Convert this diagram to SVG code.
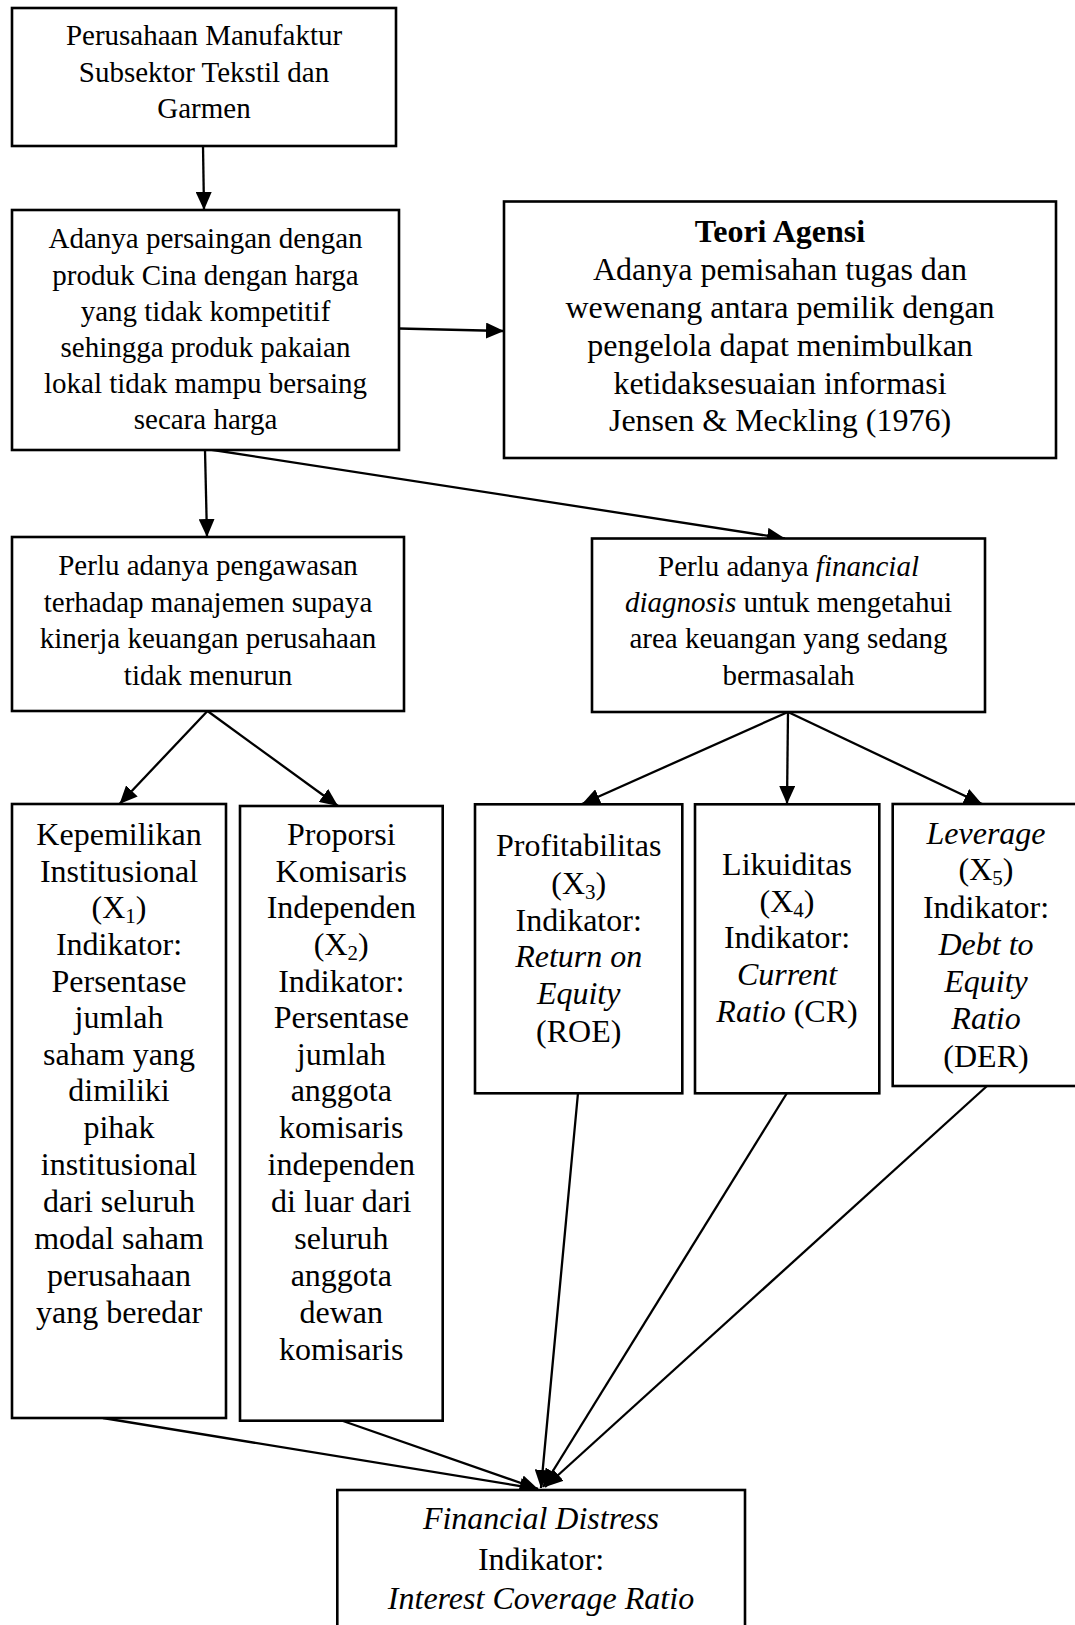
<svg xmlns="http://www.w3.org/2000/svg" width="1075" height="1625" viewBox="0 0 1075 1625">
<style>
  .box { fill: #ffffff; stroke: #000000; stroke-width: 2.6; }
  .t { font-family: "Liberation Serif", "Times New Roman", serif; fill: #000000; text-anchor: middle; }
  .s29 { font-size: 29px; }
  .s32 { font-size: 32px; }
  .it { font-style: italic; }
  .b { font-weight: bold; }
  .ln { fill: none; stroke: #000000; stroke-width: 2.3; marker-end: url(#ah); }
</style>
<defs>
  <marker id="ah" markerUnits="userSpaceOnUse" markerWidth="18" markerHeight="16" refX="18" refY="8" orient="auto">
    <path d="M0,0 L18,8 L0,16 Z" fill="#000000"/>
  </marker>
</defs>
<rect x="0" y="0" width="1075" height="1625" fill="#ffffff"/>

<g id="connectors">
  <line class="ln" x1="203" y1="146" x2="204" y2="210"/>
  <line class="ln" x1="399" y1="328.5" x2="504" y2="331"/>
  <line class="ln" x1="205" y1="450" x2="207" y2="537"/>
  <line class="ln" x1="206.5" y1="449" x2="785" y2="538.5"/>
  <line class="ln" x1="207.5" y1="711" x2="119.5" y2="804"/>
  <line class="ln" x1="207.5" y1="711" x2="338" y2="806"/>
  <line class="ln" x1="788" y1="712" x2="582" y2="804"/>
  <line class="ln" x1="788" y1="712" x2="787" y2="804"/>
  <line class="ln" x1="788" y1="712" x2="982" y2="804"/>
  <line class="ln" x1="103" y1="1418" x2="538" y2="1489"/>
  <line class="ln" x1="343" y1="1421" x2="538" y2="1489"/>
  <line class="ln" x1="578" y1="1093" x2="541" y2="1488"/>
  <line class="ln" x1="787" y1="1093" x2="543" y2="1487"/>
  <line class="ln" x1="987" y1="1086" x2="545" y2="1487"/>
</g>

<g id="node-perusahaan">
  <rect class="box" x="12" y="8" width="384" height="138"/>
  <text class="t s29" x="204" y="45">Perusahaan Manufaktur</text>
  <text class="t s29" x="204" y="81.7">Subsektor Tekstil dan</text>
  <text class="t s29" x="204" y="118.3">Garmen</text>
</g>

<g id="node-persaingan">
  <rect class="box" x="12" y="210" width="387" height="240"/>
  <text class="t s29" x="205.5" y="248">Adanya persaingan dengan</text>
  <text class="t s29" x="205.5" y="284.5">produk Cina dengan harga</text>
  <text class="t s29" x="205.5" y="320.5">yang tidak kompetitif</text>
  <text class="t s29" x="205.5" y="356.5">sehingga produk pakaian</text>
  <text class="t s29" x="205.5" y="392.5">lokal tidak mampu bersaing</text>
  <text class="t s29" x="205.5" y="428.5">secara harga</text>
</g>

<g id="node-teori">
  <rect class="box" x="504" y="201.5" width="552" height="256.5"/>
  <text class="t s32 b" x="780" y="242">Teori Agensi</text>
  <text class="t s32" x="780" y="280">Adanya pemisahan tugas dan</text>
  <text class="t s32" x="780" y="318">wewenang antara pemilik dengan</text>
  <text class="t s32" x="780" y="356">pengelola dapat menimbulkan</text>
  <text class="t s32" x="780" y="393.5">ketidaksesuaian informasi</text>
  <text class="t s32" x="780" y="431">Jensen &amp; Meckling (1976)</text>
</g>

<g id="node-pengawasan">
  <rect class="box" x="12" y="537" width="392" height="174"/>
  <text class="t s29" x="208" y="575">Perlu adanya pengawasan</text>
  <text class="t s29" x="208" y="611.7">terhadap manajemen supaya</text>
  <text class="t s29" x="208" y="648.3">kinerja keuangan perusahaan</text>
  <text class="t s29" x="208" y="685">tidak menurun</text>
</g>

<g id="node-diagnosis">
  <rect class="box" x="592" y="538.5" width="393" height="173.5"/>
  <text class="t s29" x="788.5" y="576">Perlu adanya <tspan class="it">financial</tspan></text>
  <text class="t s29" x="788.5" y="611.7"><tspan class="it">diagnosis</tspan> untuk mengetahui</text>
  <text class="t s29" x="788.5" y="648.3">area keuangan yang sedang</text>
  <text class="t s29" x="788.5" y="685">bermasalah</text>
</g>

<g id="node-x1">
  <rect class="box" x="12" y="804" width="214" height="614"/>
  <text class="t s32" x="119" y="845">Kepemilikan</text>
  <text class="t s32" x="119" y="881.5">Institusional</text>
  <text class="t s32" x="119" y="918">(X<tspan font-size="21" dy="5">1</tspan><tspan dy="-5">)</tspan></text>
  <text class="t s32" x="119" y="955">Indikator:</text>
  <text class="t s32" x="119" y="991.5">Persentase</text>
  <text class="t s32" x="119" y="1028">jumlah</text>
  <text class="t s32" x="119" y="1064.5">saham yang</text>
  <text class="t s32" x="119" y="1101">dimiliki</text>
  <text class="t s32" x="119" y="1138">pihak</text>
  <text class="t s32" x="119" y="1175">institusional</text>
  <text class="t s32" x="119" y="1212">dari seluruh</text>
  <text class="t s32" x="119" y="1249">modal saham</text>
  <text class="t s32" x="119" y="1286">perusahaan</text>
  <text class="t s32" x="119" y="1323">yang beredar</text>
</g>

<g id="node-x2">
  <rect class="box" x="240" y="806" width="202.7" height="614.7"/>
  <text class="t s32" x="341.3" y="845">Proporsi</text>
  <text class="t s32" x="341.3" y="881.5">Komisaris</text>
  <text class="t s32" x="341.3" y="918">Independen</text>
  <text class="t s32" x="341.3" y="955">(X<tspan font-size="21" dy="5">2</tspan><tspan dy="-5">)</tspan></text>
  <text class="t s32" x="341.3" y="991.5">Indikator:</text>
  <text class="t s32" x="341.3" y="1028">Persentase</text>
  <text class="t s32" x="341.3" y="1064.5">jumlah</text>
  <text class="t s32" x="341.3" y="1101">anggota</text>
  <text class="t s32" x="341.3" y="1138">komisaris</text>
  <text class="t s32" x="341.3" y="1175">independen</text>
  <text class="t s32" x="341.3" y="1212">di luar dari</text>
  <text class="t s32" x="341.3" y="1249">seluruh</text>
  <text class="t s32" x="341.3" y="1286">anggota</text>
  <text class="t s32" x="341.3" y="1323">dewan</text>
  <text class="t s32" x="341.3" y="1360">komisaris</text>
</g>

<g id="node-x3">
  <rect class="box" x="475" y="804.3" width="207.3" height="289"/>
  <text class="t s32" x="578.7" y="856">Profitabilitas</text>
  <text class="t s32" x="578.7" y="893.5">(X<tspan font-size="21" dy="5">3</tspan><tspan dy="-5">)</tspan></text>
  <text class="t s32" x="578.7" y="930.5">Indikator:</text>
  <text class="t s32 it" x="578.7" y="967">Return on</text>
  <text class="t s32 it" x="578.7" y="1004">Equity</text>
  <text class="t s32" x="578.7" y="1041.5">(ROE)</text>
</g>

<g id="node-x4">
  <rect class="box" x="695" y="804.3" width="184.3" height="289"/>
  <text class="t s32" x="787" y="875">Likuiditas</text>
  <text class="t s32" x="787" y="911.5">(X<tspan font-size="21" dy="5">4</tspan><tspan dy="-5">)</tspan></text>
  <text class="t s32" x="787" y="948">Indikator:</text>
  <text class="t s32 it" x="787" y="984.5">Current</text>
  <text class="t s32" x="787" y="1021.5"><tspan class="it">Ratio</tspan> (CR)</text>
</g>

<g id="node-x5">
  <rect class="box" x="892.7" y="804" width="186.6" height="282"/>
  <text class="t s32 it" x="986" y="843.5">Leverage</text>
  <text class="t s32" x="986" y="880">(X<tspan font-size="21" dy="5">5</tspan><tspan dy="-5">)</tspan></text>
  <text class="t s32" x="986" y="917.5">Indikator:</text>
  <text class="t s32 it" x="986" y="955">Debt to</text>
  <text class="t s32 it" x="986" y="991.5">Equity</text>
  <text class="t s32 it" x="986" y="1028.5">Ratio</text>
  <text class="t s32" x="986" y="1066.5">(DER)</text>
</g>

<g id="node-distress">
  <rect class="box" x="337.3" y="1490" width="407.7" height="200"/>
  <text class="t s32 it" x="541" y="1529">Financial Distress</text>
  <text class="t s32" x="541" y="1570">Indikator:</text>
  <text class="t s32 it" x="541" y="1609">Interest Coverage Ratio</text>
</g>
</svg>
